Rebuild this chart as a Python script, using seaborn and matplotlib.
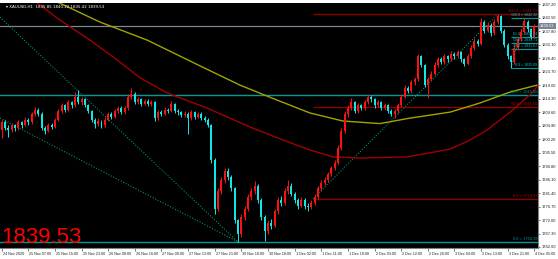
import matplotlib
matplotlib.use("Agg")
import matplotlib.pyplot as plt
import matplotlib.transforms as mtransforms
import numpy as np
import pandas as pd
import seaborn as sns

# ---------------- data ----------------
opens = [1803.5, 1806.0, 1804.0, 1803.5, 1805.0, 1804.0, 1806.0, 1805.0, 1807.0, 1806.0,
         1809.0, 1810.5, 1809.0, 1804.0, 1803.0, 1805.0, 1804.5, 1807.0, 1810.0, 1812.0,
         1810.5, 1813.0, 1812.0, 1815.0, 1813.0, 1814.0, 1812.0, 1810.0, 1807.0, 1805.5,
         1806.5, 1805.0, 1807.0, 1809.0, 1808.0, 1810.0, 1811.0, 1809.5, 1811.0, 1815.0,
         1816.0, 1813.0, 1814.0, 1812.5, 1813.5, 1812.5, 1813.0, 1807.5, 1809.5, 1809.0,
         1810.5, 1810.0, 1812.5, 1810.0, 1809.5, 1808.5, 1809.0, 1807.5, 1809.5, 1808.0,
         1809.0, 1807.5, 1807.0, 1805.0, 1793.0, 1776.0, 1782.0, 1786.0, 1789.0, 1787.0,
         1783.0, 1772.0, 1767.0, 1773.0, 1776.0, 1780.0, 1782.0, 1784.0, 1779.0, 1773.0,
         1768.0, 1771.0, 1770.0, 1775.0, 1779.0, 1778.0, 1782.0, 1784.0, 1781.0, 1779.0,
         1777.0, 1779.0, 1777.0, 1776.5, 1778.0, 1780.0, 1783.0, 1785.0, 1786.0, 1788.0,
         1790.0, 1792.0, 1797.0, 1803.0, 1809.0, 1811.0, 1813.0, 1810.0, 1812.0, 1811.0,
         1813.0, 1815.0, 1814.0, 1812.0, 1813.0, 1811.0, 1812.0, 1810.0, 1809.0, 1810.0,
         1812.0, 1815.0, 1818.0, 1817.0, 1820.0, 1821.0, 1829.0, 1826.0, 1819.0, 1821.0,
         1823.0, 1826.0, 1828.0, 1827.0, 1829.0, 1828.0, 1830.0, 1829.0, 1830.5, 1828.0,
         1826.5, 1829.0, 1832.0, 1834.5, 1833.5, 1841.0, 1838.0, 1840.0, 1837.0, 1841.0,
         1843.0, 1838.0, 1833.0, 1829.0, 1827.0, 1832.0, 1835.0, 1837.5, 1841.0, 1838.5,
         1835.85]
closes = [1806.0, 1804.0, 1803.5, 1805.0, 1804.0, 1806.0, 1805.0, 1807.0, 1806.0, 1809.0,
          1810.5, 1809.0, 1804.0, 1803.0, 1805.0, 1804.5, 1807.0, 1810.0, 1812.0, 1810.5,
          1813.0, 1812.0, 1815.0, 1813.0, 1814.0, 1812.0, 1810.0, 1807.0, 1805.5, 1806.5,
          1805.0, 1807.0, 1809.0, 1808.0, 1810.0, 1811.0, 1809.5, 1811.0, 1815.0, 1816.0,
          1813.0, 1814.0, 1812.5, 1813.5, 1812.5, 1813.0, 1807.5, 1809.5, 1809.0, 1810.5,
          1810.0, 1812.5, 1810.0, 1809.5, 1808.5, 1809.0, 1807.5, 1809.5, 1808.0, 1809.0,
          1807.5, 1807.0, 1805.0, 1793.0, 1776.0, 1782.0, 1786.0, 1789.0, 1787.0, 1783.0,
          1772.0, 1767.0, 1773.0, 1776.0, 1780.0, 1782.0, 1784.0, 1779.0, 1773.0, 1768.0,
          1771.0, 1770.0, 1775.0, 1779.0, 1778.0, 1782.0, 1784.0, 1781.0, 1779.0, 1777.0,
          1779.0, 1777.0, 1776.5, 1778.0, 1780.0, 1783.0, 1785.0, 1786.0, 1788.0, 1790.0,
          1792.0, 1797.0, 1803.0, 1809.0, 1811.0, 1813.0, 1810.0, 1812.0, 1811.0, 1813.0,
          1815.0, 1814.0, 1812.0, 1813.0, 1811.0, 1812.0, 1810.0, 1809.0, 1810.0, 1812.0,
          1815.0, 1818.0, 1817.0, 1820.0, 1821.0, 1829.0, 1826.0, 1819.0, 1821.0, 1823.0,
          1826.0, 1828.0, 1827.0, 1829.0, 1828.0, 1830.0, 1829.0, 1830.5, 1828.0, 1826.5,
          1829.0, 1832.0, 1834.5, 1833.5, 1841.0, 1838.0, 1840.0, 1837.0, 1841.0, 1843.0,
          1838.0, 1833.0, 1829.0, 1827.0, 1832.0, 1835.0, 1837.5, 1841.0, 1838.5, 1835.85,
          1839.53]
highs = [1807.0, 1806.8, 1805.0, 1805.8, 1805.6, 1806.9, 1806.5, 1807.8, 1807.5, 1809.8,
         1811.5, 1811.0, 1809.5, 1804.8, 1805.9, 1805.7, 1807.6, 1810.8, 1812.9, 1812.6,
         1813.8, 1813.6, 1816.5, 1817.3, 1814.8, 1814.5, 1812.6, 1810.5, 1807.6, 1807.4,
         1807.0, 1807.9, 1809.8, 1809.6, 1810.8, 1811.9, 1811.6, 1811.8, 1815.8, 1818.0,
         1816.6, 1814.9, 1814.6, 1814.2, 1814.0, 1813.8, 1813.4, 1810.3, 1810.2, 1811.3,
         1811.2, 1813.5, 1812.9, 1810.7, 1810.0, 1809.9, 1809.6, 1810.3, 1810.0, 1809.8,
         1809.5, 1808.2, 1807.5, 1805.6, 1793.5, 1783.0, 1787.0, 1790.0, 1790.0, 1787.8,
         1783.5, 1772.5, 1774.0, 1777.0, 1781.0, 1783.0, 1785.5, 1784.6, 1779.5, 1773.6,
         1772.0, 1772.2, 1776.0, 1780.0, 1780.2, 1783.0, 1786.0, 1784.8, 1781.8, 1779.6,
         1779.9, 1779.6, 1777.8, 1778.9, 1780.9, 1783.8, 1785.9, 1786.9, 1788.9, 1790.9,
         1793.0, 1798.0, 1804.0, 1810.0, 1812.0, 1814.5, 1813.6, 1812.9, 1812.6, 1813.9,
         1816.0, 1815.7, 1814.6, 1813.9, 1813.5, 1812.9, 1812.5, 1810.6, 1810.8, 1812.9,
         1815.9, 1818.9, 1818.7, 1820.9, 1821.9, 1830.0, 1829.6, 1826.5, 1821.9, 1823.9,
         1826.9, 1828.9, 1828.7, 1829.9, 1829.6, 1830.9, 1830.6, 1831.4, 1831.0, 1828.6,
         1829.9, 1832.9, 1835.4, 1835.2, 1842.5, 1841.6, 1840.9, 1840.6, 1841.9, 1843.73,
         1843.4, 1838.6, 1833.6, 1829.6, 1832.9, 1835.9, 1838.4, 1842.32, 1841.6, 1839.0,
         1840.22]
lows = [1800.5, 1803.2, 1801.0, 1802.8, 1803.0, 1803.5, 1804.2, 1804.6, 1805.2, 1805.5,
        1808.4, 1808.2, 1803.2, 1802.0, 1802.5, 1803.6, 1804.0, 1806.5, 1809.4, 1809.8,
        1810.0, 1811.2, 1811.5, 1812.4, 1812.2, 1811.4, 1809.2, 1806.2, 1804.2, 1804.8,
        1804.0, 1804.5, 1806.4, 1807.2, 1807.5, 1809.4, 1808.8, 1809.0, 1810.5, 1814.2,
        1812.3, 1812.5, 1811.8, 1812.0, 1811.7, 1811.9, 1806.6, 1807.0, 1808.2, 1808.5,
        1809.2, 1809.6, 1809.3, 1808.7, 1807.8, 1807.9, 1802.0, 1807.0, 1807.3, 1807.5,
        1806.8, 1806.2, 1804.3, 1792.0, 1774.0, 1775.2, 1781.2, 1785.0, 1786.0, 1782.0,
        1770.8, 1764.39, 1766.0, 1772.0, 1775.2, 1779.0, 1781.2, 1778.0, 1772.0, 1764.6,
        1767.0, 1769.0, 1769.4, 1774.2, 1777.0, 1777.2, 1781.2, 1780.2, 1778.0, 1776.0,
        1776.4, 1776.0, 1775.0, 1776.0, 1777.4, 1779.4, 1782.2, 1784.2, 1785.4, 1787.2,
        1789.4, 1791.4, 1796.4, 1802.2, 1808.0, 1810.2, 1809.2, 1809.4, 1810.2, 1810.4,
        1812.4, 1813.2, 1811.2, 1811.4, 1810.2, 1810.4, 1809.2, 1808.2, 1807.7, 1809.4,
        1811.4, 1814.4, 1816.2, 1816.4, 1819.2, 1820.4, 1825.2, 1818.2, 1814.5, 1820.4,
        1822.4, 1825.4, 1826.2, 1826.4, 1827.2, 1827.4, 1828.2, 1828.4, 1827.2, 1825.6,
        1826.0, 1828.4, 1831.4, 1832.6, 1833.0, 1837.2, 1837.4, 1836.0, 1836.4, 1840.2,
        1837.2, 1832.2, 1828.2, 1825.09, 1826.4, 1831.4, 1834.4, 1836.8, 1837.6, 1835.2,
        1835.42]

# moving averages (bar index, price)
ma_slow_idx = [15.4, 29.5, 43.7, 59.6, 71.6, 82.7, 92.6, 102.5, 113.6, 122.6, 134.7, 143.7, 152.7, 160.8]
ma_slow_val = [1848.7, 1841.0, 1834.7, 1825.7, 1819.0, 1813.8, 1809.3, 1806.5, 1805.6, 1807.5, 1809.6, 1812.8, 1816.6, 1819.0]
ma_fast_idx = [9.4, 17.5, 26.5, 34.7, 41.6, 49.7, 61.7, 74.6, 84.5, 92.6, 99.5, 107.6, 121.7, 134.7, 140.7, 145.8, 152.7, 159.3, 160.8]
ma_fast_val = [1848.7, 1841.7, 1834.7, 1827.8, 1821.5, 1816.3, 1811.0, 1804.4, 1799.9, 1796.4, 1794.0, 1793.6, 1794.0, 1796.7, 1799.9, 1803.4, 1809.6, 1816.3, 1818.5]

# Fibonacci / horizontal levels
red_fib_levels = [0.0, 50.0, 100.0]
red_fib_prices = [1779.37, 1811.55, 1843.73]
red_fib_start = 93.5
cyan_fib_levels = [0.0, 50.0]
cyan_fib_prices = [1764.39, 1815.56]
small_fib_levels = [0.0, 38.2, 50.0, 61.8, 100.0]
small_fib_prices = [1825.09, 1831.67, 1833.71, 1835.74, 1842.32]
small_fib_start = 153.0
bid_price = 1839.53
trend_lines = [((-0.5, 1842.7), (71.0, 1764.39)),
               ((-0.5, 1807.5), (71.0, 1764.39)),
               ((93.5, 1779.37), (149.0, 1843.73)),
               ((153.0, 1825.09), (157.0, 1842.32))]

y_ticks = [1847.20, 1842.50, 1837.80, 1833.10, 1828.40, 1823.70, 1819.00, 1814.30, 1809.60,
           1804.90, 1800.20, 1795.50, 1790.80, 1786.10, 1781.40, 1776.70, 1772.00, 1767.30, 1762.60]
x_tick_pos = [0, 8, 16, 24, 32, 40, 48, 56, 64, 72, 80, 88, 96, 104, 112, 120, 128, 136, 144, 152, 160]
x_tick_labels = ["24 Nov 2020", "25 Nov 07:00", "25 Nov 15:00", "25 Nov 23:00", "26 Nov 08:00",
                 "26 Nov 16:00", "27 Nov 00:00", "27 Nov 13:00", "27 Nov 21:00", "30 Nov 10:00",
                 "30 Nov 18:00", "1 Dec 02:00", "1 Dec 11:00", "1 Dec 19:00", "2 Dec 03:00",
                 "2 Dec 12:00", "2 Dec 20:00", "3 Dec 04:00", "3 Dec 13:00", "3 Dec 21:00",
                 "4 Dec 05:00"]
title_text = "XAUUSD,H1  1835.85 1840.22 1835.42 1839.53"

# ---------------- styling ----------------
sns.set_style("dark", {"axes.facecolor": "black", "figure.facecolor": "white"})
plt.rcParams["font.family"] = ["Liberation Sans", "DejaVu Sans"]

BULL = "#ff1010"
BEAR = "#10e8e8"
FIB_RED = "#8c0000"
FIB_CYAN = "#009a9a"

fig = plt.figure(figsize=(5.58, 2.59), dpi=100)
ax = fig.add_axes([0.0, 1 - 248 / 259, 538 / 558, 245 / 259])
ax.set_facecolor("black")

df = pd.DataFrame({"i": np.arange(len(closes)), "open": opens, "high": highs,
                   "low": lows, "close": closes})
df["bull"] = df["close"] >= df["open"]
df["color"] = np.where(df["bull"], BULL, BEAR)

# horizontal levels (drawn first, under candles)
ax.axhline(bid_price, color="#7a8694", lw=0.9, zorder=1)
for lvl, p in zip(cyan_fib_levels, cyan_fib_prices):
    ax.axhline(p, color=FIB_CYAN, lw=1.0, zorder=1)
    ax.text(160.9, p + 0.3, f"{lvl:.1f} = {p:.2f}", color=FIB_CYAN, fontsize=2.9,
            ha="right", va="bottom", zorder=6)
for lvl, p in zip(red_fib_levels, red_fib_prices):
    ax.hlines(p, red_fib_start, 161.2, color=FIB_RED, lw=1.0, zorder=1)
    ax.text(160.9, p + 0.3, f"{lvl:.1f} = {p:.2f}", color="#c00000", fontsize=2.9,
            ha="right", va="bottom", zorder=6)
for lvl, p in zip(small_fib_levels, small_fib_prices):
    ax.hlines(p, small_fib_start, 161.2, color=FIB_CYAN, lw=0.8, zorder=1)
    ax.text(160.9, p + 0.3, f"{lvl:.1f} = {p:.2f}", color="#00c8c8", fontsize=2.6,
            ha="right", va="bottom", zorder=6)

# dotted trend lines
for (x0, y0), (x1, y1) in trend_lines:
    ax.plot([x0, x1], [y0, y1], color="#00906a", lw=0.8, ls=(0, (1, 1.5)), zorder=2)

# moving averages
sns.lineplot(x=ma_slow_idx, y=ma_slow_val, ax=ax, color="#a4a400", lw=1.0, zorder=3)
sns.lineplot(x=ma_fast_idx, y=ma_fast_val, ax=ax, color="#a00000", lw=1.0, zorder=3)

# candles
ax.vlines(df["i"], df["low"], df["high"], colors=df["color"], lw=0.7, zorder=4)
body_lo = np.minimum(df["open"], df["close"])
body_h = np.maximum(np.abs(df["close"] - df["open"]), 0.25)
ax.bar(df["i"], body_h, bottom=body_lo, width=0.6, color=df["color"], linewidth=0, zorder=5)

# axes limits
ax.set_xlim(-0.48, 161.08)
ax.set_ylim(1762.25, 1847.62)

# y axis on right
ax.yaxis.tick_right()
ax.set_yticks(y_ticks)
ax.set_yticklabels([f"{v:.2f}" for v in y_ticks])
ax.tick_params(axis="y", which="both", right=True, length=1.5, width=0.5, color="#404040",
               labelsize=2.9, labelcolor="#202020", pad=1.2)
ax.set_xticks(x_tick_pos)
ax.set_xticklabels(x_tick_labels, ha="left")
ax.tick_params(axis="x", which="both", bottom=True, length=2.0, width=0.5, color="#404040",
               labelsize=2.7, labelcolor="#202020", pad=0.8, direction="out")
for lab in ax.get_xticklabels():
    lab.set_transform(lab.get_transform() + mtransforms.ScaledTranslation(1 / 100, 0, fig.dpi_scale_trans))
ax.grid(False)
for s in ["top", "left"]:
    ax.spines[s].set_visible(False)
for s in ["right", "bottom"]:
    ax.spines[s].set_visible(True)
    ax.spines[s].set_color("#808080")
    ax.spines[s].set_linewidth(0.8)
ax.set_xlabel("")
ax.set_ylabel("")

# bid price label on axis
ax.text(1.004, bid_price, f"{bid_price:.2f}", transform=mtransforms.blended_transform_factory(ax.transAxes, ax.transData),
        fontsize=2.9, color="white", ha="left", va="center", clip_on=False,
        bbox=dict(boxstyle="square,pad=0.25", fc="#7a8694", ec="none"))

# title and big price
ax.text(0.012, 0.99, "\u25be " + title_text, transform=ax.transAxes, fontsize=2.9, color="white",
        ha="left", va="top", family=["DejaVu Sans"])
ax.text(0.003, 0.022, f"{bid_price:.2f}", transform=ax.transAxes, fontsize=16, color="#ff0000",
        ha="left", va="baseline")

fig.savefig("out.png", dpi=100, facecolor="white")
